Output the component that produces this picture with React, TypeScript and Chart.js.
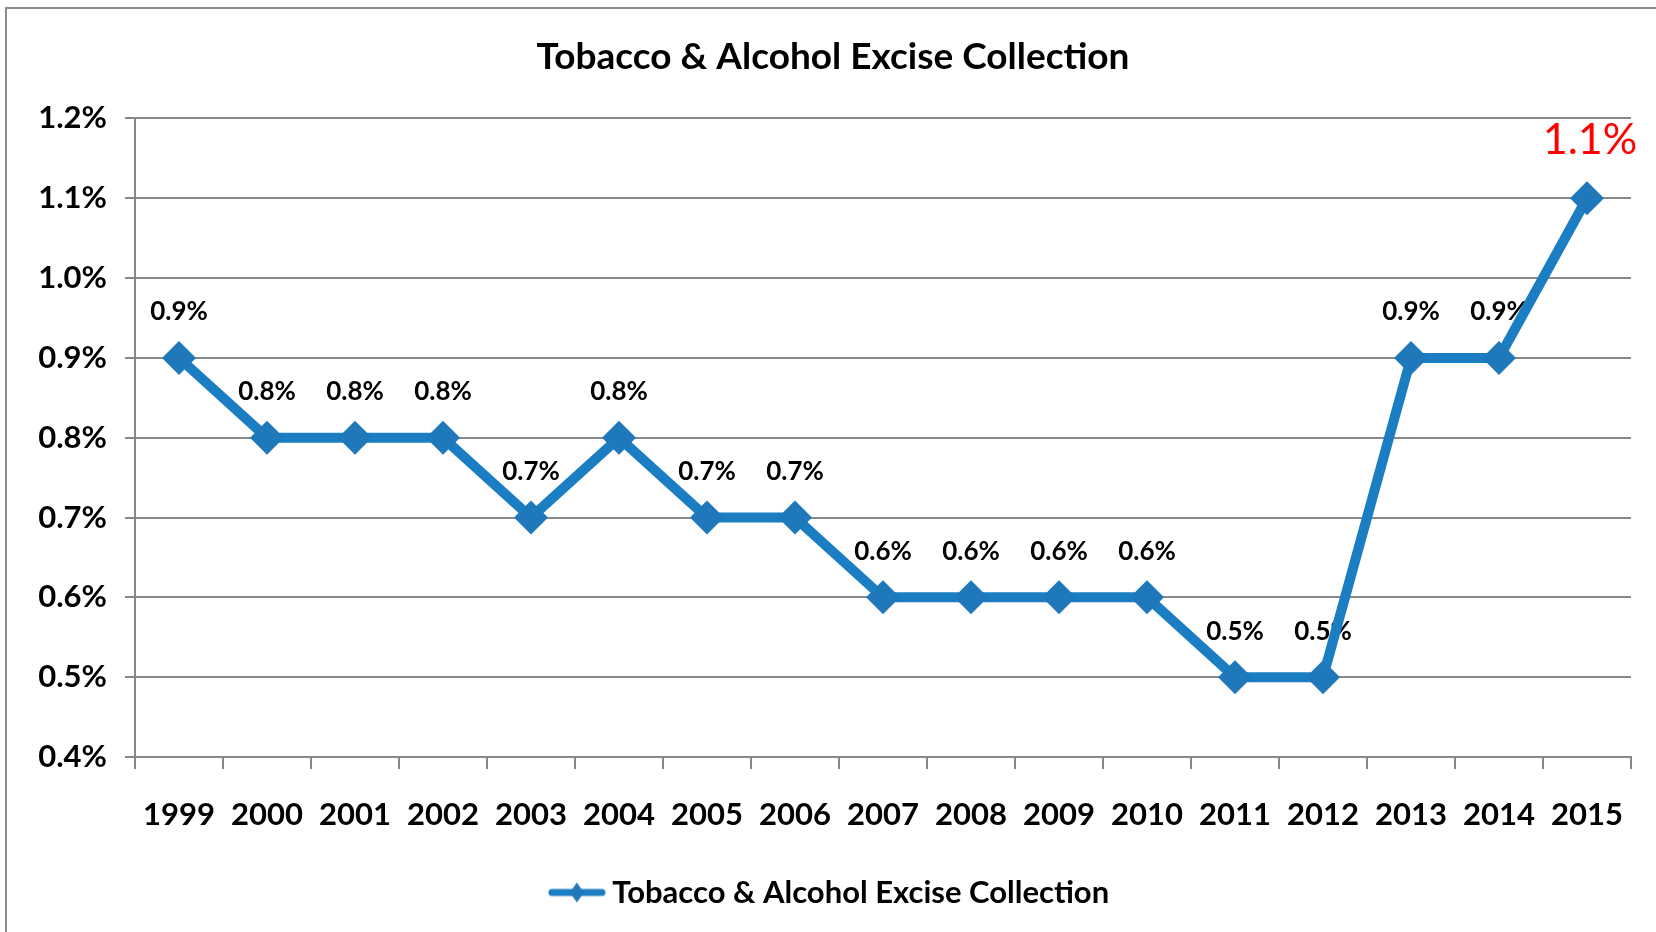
import React, { useEffect, useRef } from "react";
import { Chart, registerables } from "chart.js";

Chart.register(...registerables);

const years = ["1999", "2000", "2001", "2002", "2003", "2004", "2005", "2006", "2007", "2008", "2009", "2010", "2011", "2012", "2013", "2014", "2015"];
const values = [0.9, 0.8, 0.8, 0.8, 0.7, 0.8, 0.7, 0.7, 0.6, 0.6, 0.6, 0.6, 0.5, 0.5, 0.9, 0.9, 1.1];
const yMin = 0.4;
const yMax = 1.2;
const yStep = 0.1;
const seriesName = "Tobacco & Alcohol Excise Collection";
const chartTitle = "Tobacco & Alcohol Excise Collection";

const FONT = "Lato";
const LINE = "#1b7ec2";
const POINT = "#1f78b9";
const GRID = "#888888";

export default function App() {
  const ref = useRef<HTMLCanvasElement>(null);

  useEffect(() => {
    if (!ref.current) return;

    const icon = document.createElement("canvas");
    icon.width = 58;
    icon.height = 24;
    const g = icon.getContext("2d")!;
    g.strokeStyle = LINE;
    g.lineWidth = 7;
    g.lineCap = "round";
    g.beginPath();
    g.moveTo(4, 12);
    g.lineTo(54, 12);
    g.stroke();
    g.fillStyle = POINT;
    g.beginPath();
    g.moveTo(29, 2);
    g.lineTo(36, 12);
    g.lineTo(29, 22);
    g.lineTo(22, 12);
    g.closePath();
    g.fill();

    const labelPlugin = {
      id: "valueLabels",
      beforeDatasetsDraw(chart: any) {
        const ctx = chart.ctx;
        const meta = chart.getDatasetMeta(0);
        ctx.save();
        ctx.textAlign = "center";
        ctx.textBaseline = "middle";
        meta.data.forEach((pt: any, i: number) => {
          const last = i === values.length - 1;
          ctx.font = last ? `normal 43px ${FONT}` : `bold 26px ${FONT}`;
          ctx.fillStyle = last ? "#ff0000" : "#000000";
          ctx.fillText(`${values[i].toFixed(1)}%`, pt.x + (last ? 3 : 0), pt.y - (last ? 58 : 46));
        });
        ctx.restore();
      },
    };

    const chart = new Chart(ref.current, {
      type: "line",
      data: {
        labels: years,
        datasets: [
          {
            label: seriesName,
            data: values,
            borderColor: LINE,
            backgroundColor: POINT,
            borderWidth: 10,
            pointStyle: "rectRot",
            pointRadius: 17,
            pointBackgroundColor: POINT,
            pointBorderWidth: 0,
            tension: 0,
            fill: false,
          },
        ],
      },
      options: {
        responsive: false,
        animation: false,
        layout: { padding: { left: 35, right: 25, top: 0, bottom: 14 } },
        scales: {
          x: {
            type: "category",
            offset: true,
            grid: {
              offset: true,
              drawOnChartArea: false,
              drawTicks: true,
              tickLength: 12,
              color: GRID,
              lineWidth: 2,
            },
            border: { display: true, color: GRID, width: 2 },
            ticks: {
              font: { family: FONT, size: 31, weight: "bold" },
              color: "#000000",
              padding: 27,
              maxRotation: 0,
              autoSkip: false,
            },
            afterFit: (s: any) => {
              s.height = 110;
            },
          },
          y: {
            min: yMin,
            max: yMax,
            ticks: {
              stepSize: yStep,
              callback: (v: any) => `${Number(v).toFixed(1)}%`,
              font: { family: FONT, size: 31, weight: "bold" },
              color: "#000000",
              padding: 18,
            },
            grid: { color: GRID, lineWidth: 2, tickLength: 10, drawTicks: true },
            border: { display: true, color: GRID, width: 2 },
            afterFit: (s: any) => {
              s.width = 100;
            },
          },
        },
        plugins: {
          title: {
            display: true,
            text: chartTitle,
            font: { family: FONT, size: 37, weight: "bold" },
            color: "#000000",
            padding: { top: 35, bottom: 39 },
          },
          legend: {
            display: true,
            position: "bottom",
            labels: {
              usePointStyle: true,
              pointStyle: icon as any,
              pointStyleWidth: 40,
              font: { family: FONT, size: 31, weight: "bold" },
              color: "#000000",
              padding: 10,
            },
          },
          tooltip: { enabled: false },
        },
      } as any,
      plugins: [labelPlugin],
    });

    return () => chart.destroy();
  }, []);

  return (
    <div style={{ position: "absolute", left: 0, top: 0, width: 1656, height: 932, overflow: "hidden", background: "#ffffff" }}>
      <div
        style={{
          position: "absolute",
          left: 5,
          top: 7,
          width: 1720,
          height: 1000,
          border: "2px solid #8c8c8c",
        }}
      />
      <canvas ref={ref} width={1656} height={932} style={{ position: "absolute", left: 0, top: 0 }} />
    </div>
  );
}
